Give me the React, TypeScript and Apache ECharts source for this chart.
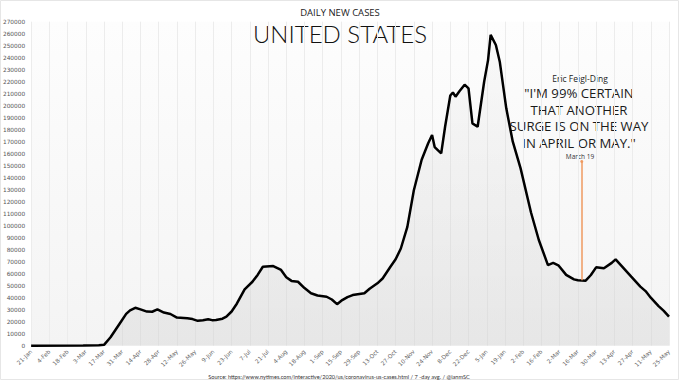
import React, { useEffect, useRef } from "react";
import * as echarts from "echarts";

// Days since 21-Jan-2020
const dayIndex = [
  0, 40, 52, 56, 61, 65, 69, 73, 76, 80, 84, 89, 93, 97, 102, 107, 112, 120, 124, 128,
  132, 136, 139, 142, 147, 150, 154, 158, 164, 170, 174, 178, 186, 192, 196, 200, 205, 210, 215, 220,
  227, 231, 235, 239, 243, 247, 256, 260, 266, 270, 276, 280, 284, 289, 294, 300, 305, 308, 310, 315,
  318, 322, 324, 326, 329, 333, 336, 339, 343, 348, 351, 353, 357, 360, 365, 370, 376, 384, 390, 397,
  401, 405, 411, 417, 420, 426, 430, 434, 440, 446, 449, 453, 461, 468, 472, 476, 482, 486, 490,
];
// 7-day average of daily new cases
const dailyCases = [
  0, 100, 300, 700, 7000, 13500, 20000, 26500, 29500, 31600, 30300, 28400, 28300, 30200, 27600, 26400, 23400, 22800, 22200, 20700,
  21200, 22000, 21300, 21400, 22500, 24200, 28500, 35000, 47000, 53300, 59000, 65800, 66400, 63100, 57000, 54000, 53300, 48000, 43700, 41800,
  40800, 38500, 34600, 38000, 40500, 42200, 43700, 47500, 52000, 56000, 65800, 72000, 81000, 99000, 129500, 155000, 168700, 175600, 165500, 160300,
  182500, 208500, 211000, 207500, 212000, 217500, 214500, 185300, 182500, 220000, 238000, 259000, 250600, 236700, 197800, 170000, 147800, 111000, 88100, 67200,
  69000, 67000, 59000, 55300, 54500, 54200, 58900, 65300, 64500, 69000, 72000, 67200, 57500, 49200, 45500, 40000, 33000, 29000, 24200,
];
const xTickLabels = [
  "21-Jan", "4-Feb", "18-Feb", "3-Mar", "17-Mar", "31-Mar", "14-Apr", "28-Apr", "12-May", "26-May",
  "9-Jun", "23-Jun", "7-Jul", "21-Jul", "4-Aug", "18-Aug", "1-Sep", "15-Sep", "29-Sep", "13-Oct",
  "27-Oct", "10-Nov", "24-Nov", "8-Dec", "22-Dec", "5-Jan", "19-Jan", "2-Feb", "16-Feb", "2-Mar",
  "16-Mar", "30-Mar", "13-Apr", "27-Apr", "11-May", "25-May",
];
const annotationDay = 423; // March 19, 2021
const annotationRange = [54500, 153500];
const quoteLines = ["\"I'M 99% CERTAIN", "THAT ANOTHER", "SURGE IS ON THE WAY", "IN APRIL OR MAY.\""];

export default function App() {
  const ref = useRef<HTMLDivElement>(null);
  useEffect(() => {
    if (!ref.current) return;
    const chart = echarts.init(ref.current, null, { renderer: "svg" });
    const data = dayIndex.map((d, i) => [d, dailyCases[i]]);
    const tFont = "Lato";
    const qFont = "Open Sans";
    const graphics: any[] = [
      { type: "rect", shape: { x: 0.5, y: 0.5, width: 678, height: 379 }, style: { fill: "none", stroke: "#e6e6e6", lineWidth: 1 }, silent: true },
      { type: "text", x: 340, y: 12, style: { text: "DAILY NEW CASES", fontFamily: qFont, fontSize: 9.5, fill: "#222", textAlign: "center", textVerticalAlign: "middle" } },
      { type: "text", x: 340, y: 33, style: { text: "UNITED STATES", fontFamily: tFont, fontSize: 24, fontWeight: 300, fill: "#111", textAlign: "center", textVerticalAlign: "middle" } },
      { type: "text", x: 580, y: 78, style: { text: "Eric Feigl-Ding", fontFamily: qFont, fontSize: 8.5, fill: "#222", textAlign: "center", textVerticalAlign: "middle" } },
      ...quoteLines.map((t, i) => ({
        type: "text", x: 579, y: 93 + i * 16.5,
        style: { text: t, fontFamily: qFont, fontSize: 13.2, fill: "#1a1a1a", textAlign: "center", textVerticalAlign: "middle" },
      })),
      { type: "text", x: 580, y: 156, style: { text: "March 19", fontFamily: qFont, fontSize: 6.5, fill: "#333", textAlign: "center", textVerticalAlign: "middle" } },
      { type: "text", x: 339, y: 376, style: { text: "Source: https://www.nytimes.com/interactive/2020/us/coronavirus-us-cases.html / 7 -day avg. / @ianmSC", fontFamily: "Lato", fontSize: 5.6, fill: "#333", textAlign: "center", textVerticalAlign: "middle" } },
    ];
    chart.setOption({
      animation: false,
      backgroundColor: "#ffffff",
      grid: {
        left: 30, right: 10, top: 21.7, bottom: 37.3,
        show: true, borderWidth: 0,
        backgroundColor: new echarts.graphic.LinearGradient(0, 0, 0, 1, [
          { offset: 0, color: "#fdfdfd" },
          { offset: 1, color: "#f4f4f4" },
        ]),
      },
      xAxis: {
        type: "value", min: 0, max: 490, interval: 14,
        axisLine: { show: false }, axisTick: { show: false },
        splitLine: { show: true, lineStyle: { color: "#ececec", width: 1 } },
        axisLabel: {
          rotate: 45, fontSize: 5.8, color: "#666", fontFamily: "DejaVu Sans", margin: 5,
          showMinLabel: true, showMaxLabel: true,
          formatter: (v: number) => xTickLabels[Math.round(v / 14)] ?? "",
        },
      },
      yAxis: {
        type: "value", min: 0, max: 270000, interval: 10000,
        axisLine: { show: false }, axisTick: { show: false },
        splitLine: { show: false },
        axisLabel: { fontSize: 5.8, color: "#555", fontFamily: "DejaVu Sans", margin: 6, formatter: (v: number) => String(v) },
      },
      series: [
        {
          type: "line", data, symbol: "none", smooth: false,
          lineStyle: { color: "#000", width: 2.5 },
          areaStyle: {
            color: new echarts.graphic.LinearGradient(0, 0, 0, 1, [
              { offset: 0, color: "rgba(0,0,0,0.02)" },
              { offset: 1, color: "rgba(0,0,0,0.08)" },
            ]),
          },
          markLine: {
            silent: true, symbol: ["none", "circle"], symbolSize: 3,
            label: { show: false },
            lineStyle: { color: "#ef9a60", width: 1.5, type: "solid" },
            data: [[{ coord: [annotationDay, annotationRange[0]] }, { coord: [annotationDay, annotationRange[1]] }]],
          },
        },
      ],
      graphic: graphics,
    });
    return () => chart.dispose();
  }, []);
  return <div ref={ref} style={{ position: "fixed", left: 0, top: 0, width: 679, height: 383 }} />;
}
